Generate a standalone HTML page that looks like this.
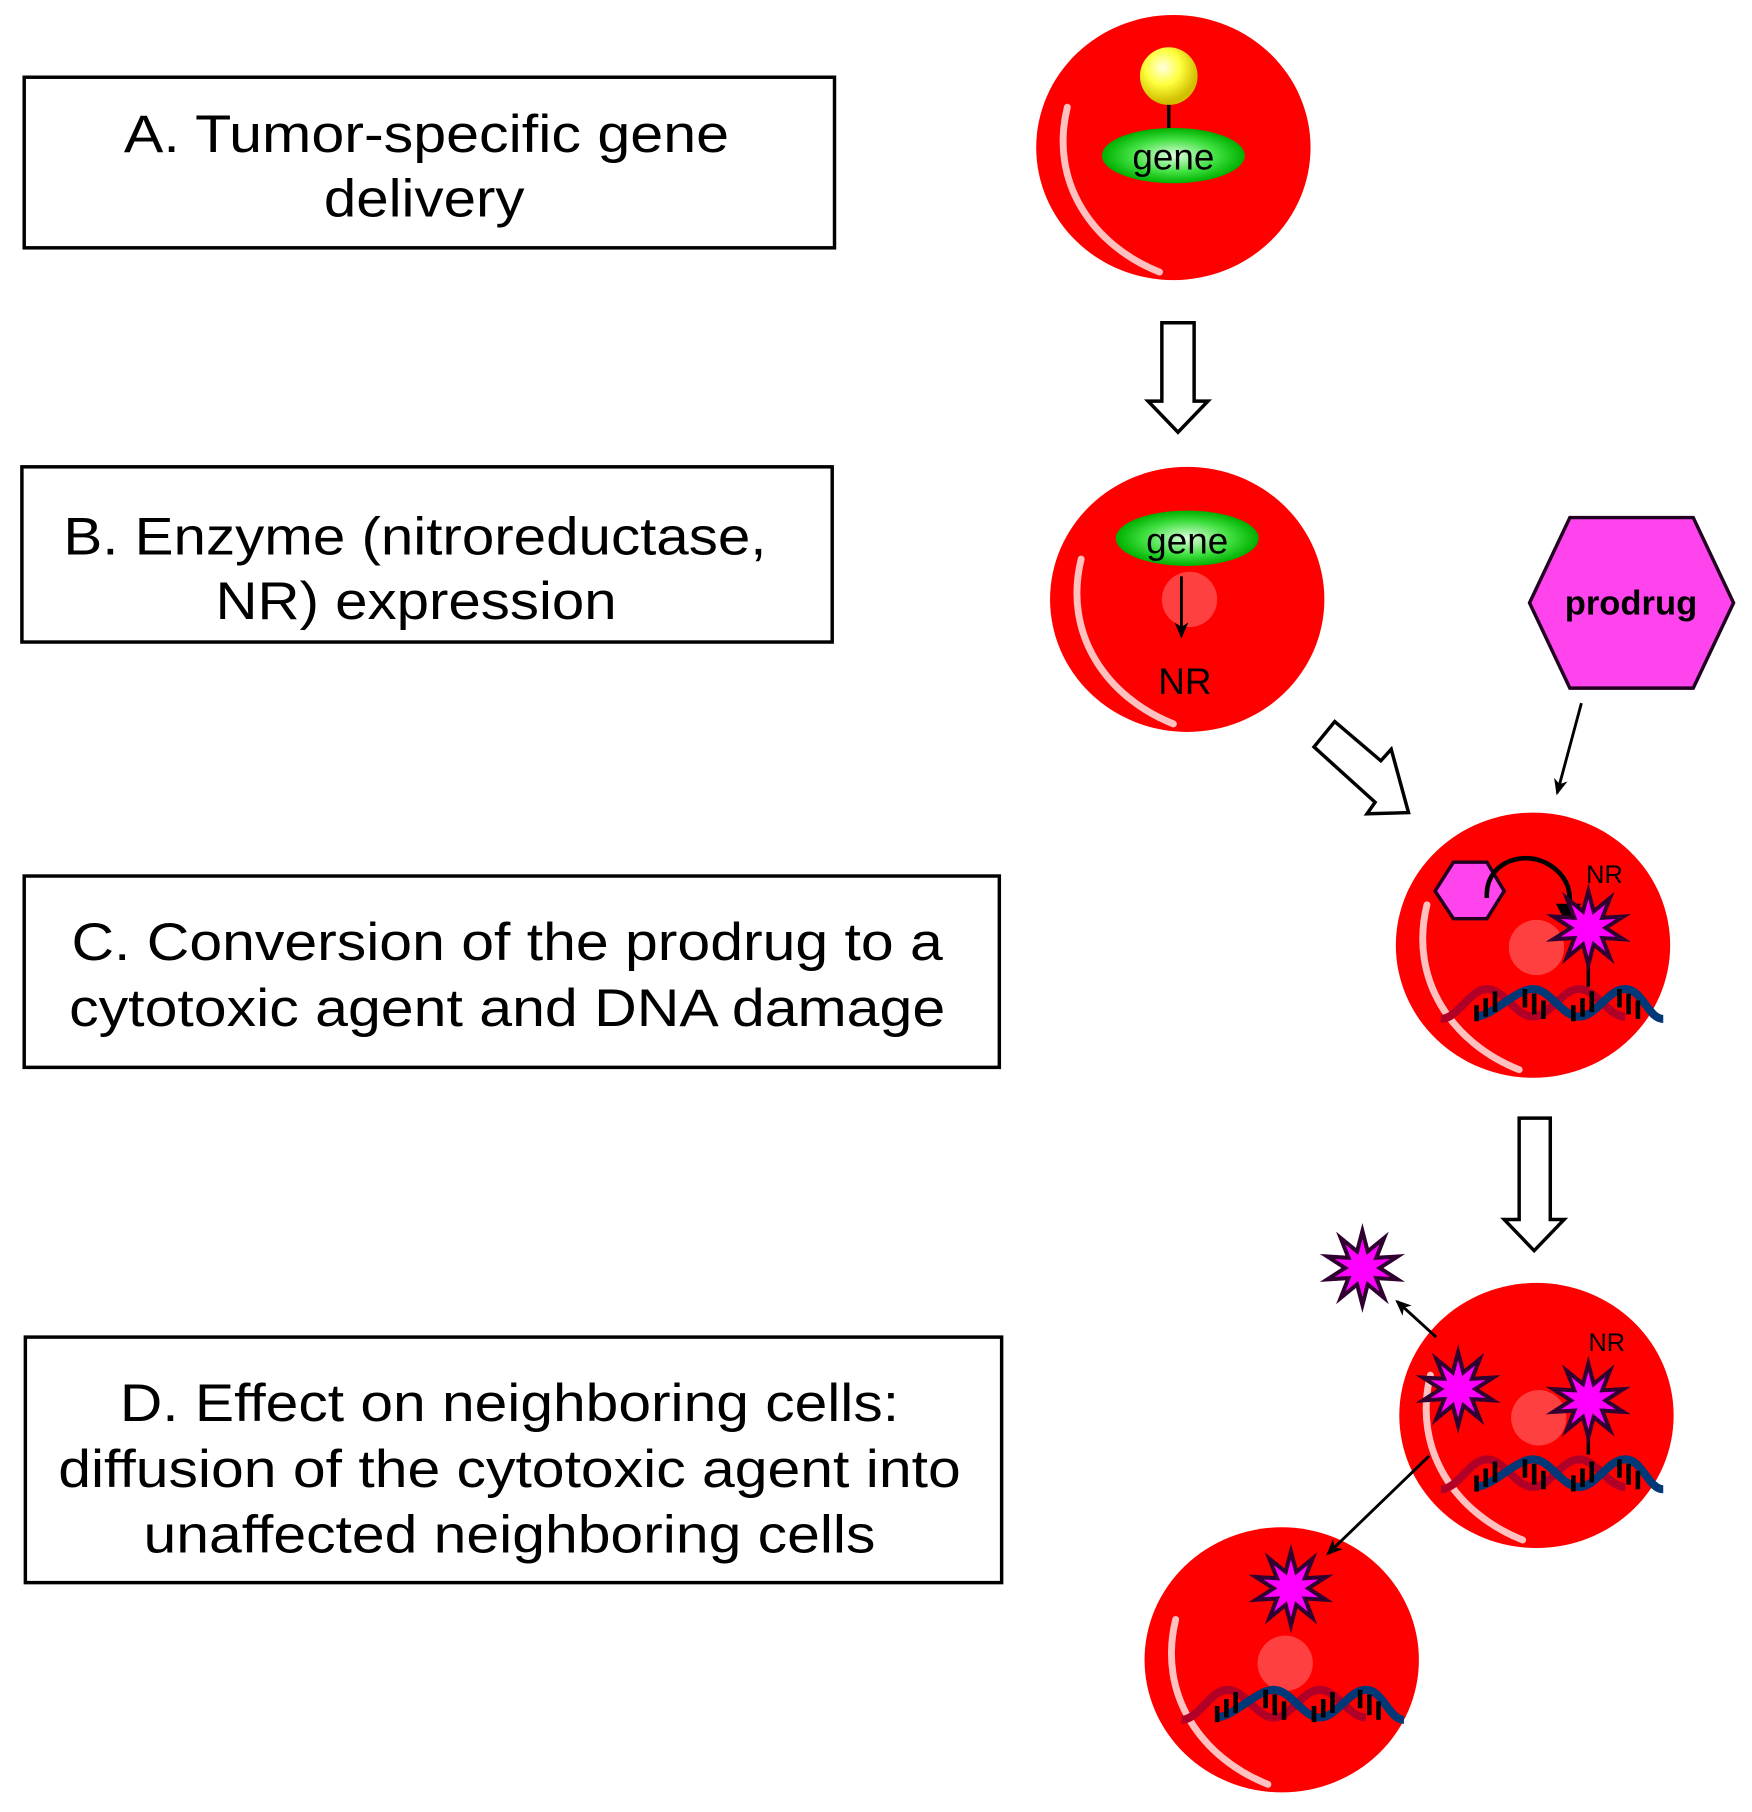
<!DOCTYPE html>
<html><head><meta charset="utf-8"><style>html,body{margin:0;padding:0;background:#fff}svg{display:block}</style></head>
<body>
<svg width="1752" height="1812" viewBox="0 0 1520 1572" preserveAspectRatio="none" xmlns="http://www.w3.org/2000/svg">
<defs>
<radialGradient id="yel" cx="0.4" cy="0.35" r="0.6"><stop offset="0" stop-color="#ffffe0"/><stop offset="0.5" stop-color="#ffff40"/><stop offset="1" stop-color="#d0c000"/></radialGradient>
<radialGradient id="grn" cx="0.5" cy="0.5" r="0.5"><stop offset="0" stop-color="#e0ffe0"/><stop offset="0.6" stop-color="#40e040"/><stop offset="1" stop-color="#00b000"/></radialGradient>
<g id="cell">
<ellipse cx="0" cy="0" rx="119" ry="115" fill="#ff0000"/>
<path d="M-92,-35 C-108,30 -70,85 -12,108" fill="none" stroke="#ffc0c0" stroke-width="6" stroke-linecap="round"/>
</g>
<polygon id="star" points="0,-32 4.6,-14.3 18.8,-25.9 12.1,-8.8 30.4,-9.9 15,0 30.4,9.9 12.1,8.8 18.8,25.9 4.6,14.3 0,32 -4.6,14.3 -18.8,25.9 -12.1,8.8 -30.4,9.9 -15,0 -30.4,-9.9 -12.1,-8.8 -18.8,-25.9 -4.6,-14.3" fill="#ff00ff" stroke="#300030" stroke-width="3.5" stroke-linejoin="miter"/>
<g id="dna">
<path d="M-85,14 C-70,14 -60,-12 -45,-12 C-30,-12 -20,12 -5,12 C10,12 20,-12 35,-12 C50,-12 60,12 75,12" fill="none" stroke="#b00028" stroke-width="7"/>
<path d="M-55,12 C-40,12 -20,-12 -5,-12 C10,-12 20,12 35,12 C50,12 60,-12 75,-12 C90,-12 95,14 108,14" fill="none" stroke="#003878" stroke-width="7"/>
<g stroke="#000" stroke-width="4">
<line x1="-54" y1="2" x2="-54" y2="16"/><line x1="-46" y1="-4" x2="-46" y2="12"/><line x1="-38" y1="-10" x2="-38" y2="8"/>
<line x1="-12" y1="-12" x2="-12" y2="4"/><line x1="-4" y1="-8" x2="-4" y2="10"/><line x1="4" y1="-2" x2="4" y2="14"/>
<line x1="30" y1="2" x2="30" y2="16"/><line x1="38" y1="-4" x2="38" y2="12"/><line x1="46" y1="-10" x2="46" y2="8"/>
<line x1="70" y1="-12" x2="70" y2="4"/><line x1="78" y1="-8" x2="78" y2="10"/><line x1="86" y1="-2" x2="86" y2="14"/>
</g>
</g>
<marker id="ah" markerWidth="14" markerHeight="12" refX="12" refY="6" orient="auto" markerUnits="userSpaceOnUse"><path d="M0,0 L14,6 L0,12 L4,6 Z" fill="#000"/></marker>
</defs>

<g font-family="Liberation Sans, sans-serif" font-size="46" text-anchor="middle" fill="#000" lengthAdjust="spacingAndGlyphs">
<rect x="21" y="67" width="703" height="148" fill="#fff" stroke="#000" stroke-width="3"/>
<text x="370" y="132" textLength="525" lengthAdjust="spacingAndGlyphs">A. Tumor-specific gene</text><text x="368" y="188" textLength="174" lengthAdjust="spacingAndGlyphs">delivery</text>
<rect x="19" y="405" width="703" height="152" fill="#fff" stroke="#000" stroke-width="3"/>
<text x="360" y="481" textLength="610" lengthAdjust="spacingAndGlyphs">B. Enzyme (nitroreductase,</text><text x="361" y="537" textLength="348" lengthAdjust="spacingAndGlyphs">NR) expression</text>
<rect x="21" y="760" width="846" height="166" fill="#fff" stroke="#000" stroke-width="3"/>
<text x="440" y="833" textLength="756" lengthAdjust="spacingAndGlyphs">C. Conversion of the prodrug to a</text><text x="440" y="890" textLength="760" lengthAdjust="spacingAndGlyphs">cytotoxic agent and DNA damage</text>
<rect x="22" y="1160" width="847" height="213" fill="#fff" stroke="#000" stroke-width="3"/>
<text x="442" y="1233" textLength="676" lengthAdjust="spacingAndGlyphs">D. Effect on neighboring cells:</text><text x="442" y="1290" textLength="783" lengthAdjust="spacingAndGlyphs">diffusion of the cytotoxic agent into</text><text x="442" y="1347" textLength="635" lengthAdjust="spacingAndGlyphs">unaffected neighboring cells</text>
</g>

<!-- Cell A -->
<use href="#cell" x="1018" y="128"/>
<line x1="1014" y1="88" x2="1014" y2="115" stroke="#000" stroke-width="3"/>
<circle cx="1014" cy="66" r="25" fill="url(#yel)"/>
<ellipse cx="1018" cy="135" rx="62" ry="24" fill="url(#grn)"/>
<text x="1018" y="147" font-family="Liberation Sans, sans-serif" font-size="32" text-anchor="middle">gene</text>

<path d="M1008,280 L1036,280 L1036,348 L1048,348 L1022,375 L996,348 L1008,348 Z" fill="#fff" stroke="#000" stroke-width="3"/>

<!-- Cell B -->
<use href="#cell" x="1030" y="520"/>
<circle cx="1032" cy="520" r="24" fill="#ff4040"/>
<ellipse cx="1030" cy="467" rx="62" ry="24" fill="url(#grn)"/>
<text x="1030" y="480" font-family="Liberation Sans, sans-serif" font-size="32" text-anchor="middle">gene</text>
<line x1="1025" y1="500" x2="1025" y2="552" stroke="#000" stroke-width="2.5" marker-end="url(#ah)"/>
<text x="1028" y="602" font-family="Liberation Sans, sans-serif" font-size="32" text-anchor="middle">NR</text>

<path d="M1140,648 L1158,626 L1198,660 L1207,650 L1222,705 L1186,706 L1193,696 Z" fill="#fff" stroke="#000" stroke-width="3"/>

<polygon points="1327,523 1362,449 1469,449 1504,523 1469,597 1362,597" fill="#ff44ee" stroke="#200020" stroke-width="3"/>
<text x="1415" y="533" font-family="Liberation Sans, sans-serif" font-size="30" font-weight="bold" text-anchor="middle">prodrug</text>
<line x1="1372" y1="610" x2="1351" y2="688" stroke="#000" stroke-width="2.5" marker-end="url(#ah)"/>

<!-- Cell C -->
<use href="#cell" x="1330" y="820"/>
<circle cx="1333" cy="822" r="24" fill="#ff4040"/>
<polygon points="1245,773 1261,748 1290,748 1305,773 1290,797 1261,797" fill="#ff44ee" stroke="#200020" stroke-width="3"/>
<path d="M1290,779 C1288,750 1318,738 1340,748 C1360,758 1365,775 1360,790" fill="none" stroke="#000" stroke-width="4"/>
<path d="M1350,784 L1372,784 L1358,800 Z" fill="#000"/>
<text x="1392" y="766" font-family="Liberation Sans, sans-serif" font-size="22" text-anchor="middle">NR</text>
<line x1="1378" y1="826" x2="1378" y2="856" stroke="#000" stroke-width="3"/>
<use href="#star" x="1378" y="805"/>
<use href="#dna" x="1335" y="870"/>

<path d="M1318,970 L1345,970 L1345,1058 L1357,1058 L1331,1085 L1305,1058 L1318,1058 Z" fill="#fff" stroke="#000" stroke-width="3"/>

<!-- Cell D -->
<use href="#cell" x="1333" y="1228"/>
<circle cx="1335" cy="1230" r="24" fill="#ff4040"/>
<text x="1394" y="1172" font-family="Liberation Sans, sans-serif" font-size="22" text-anchor="middle">NR</text>
<line x1="1378" y1="1232" x2="1378" y2="1262" stroke="#000" stroke-width="3"/>
<use href="#star" x="1378" y="1215"/>
<use href="#star" x="1265" y="1205"/>
<use href="#dna" x="1335" y="1278"/>
<use href="#star" x="1182" y="1100"/>
<line x1="1246" y1="1160" x2="1212" y2="1129" stroke="#000" stroke-width="2.5" marker-end="url(#ah)"/>

<!-- Cell E -->
<use href="#cell" x="1112" y="1440"/>
<circle cx="1115" cy="1443" r="24" fill="#ff4040"/>
<use href="#dna" x="1110" y="1478"/>
<use href="#star" x="1120" y="1378"/>
<line x1="1240" y1="1263" x2="1152" y2="1348" stroke="#000" stroke-width="2.5" marker-end="url(#ah)"/>
</svg>
</body></html>
